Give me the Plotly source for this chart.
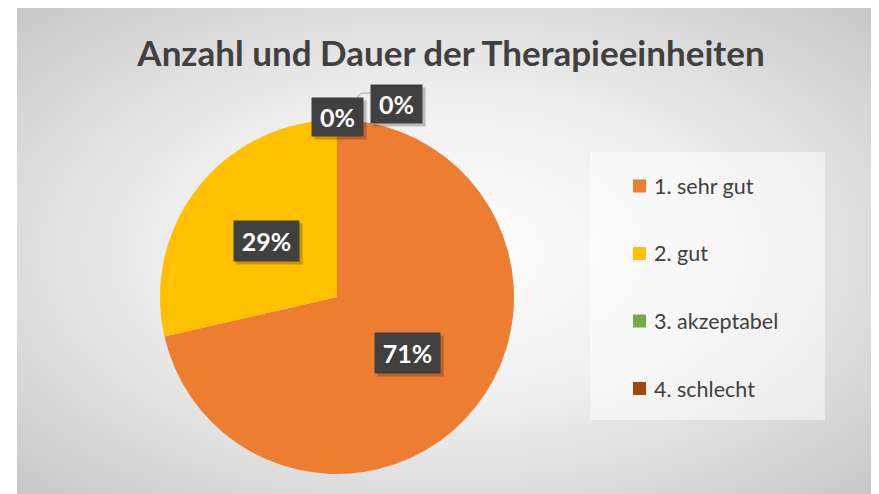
import base64
import math
import plotly.graph_objects as go

# data
categories = ["1. sehr gut", "2. gut", "3. akzeptabel", "4. schlecht"]
counts = [5, 2, 0, 0]
colors = ["#ED7D31", "#FFC000", "#70AD47", "#9E480E"]
title_text = "Anzahl und Dauer der Therapieeinheiten"

# the page body has an 8px margin, so the figure is drawn at (8, 8)
OFF = 8
W, H = 879 - OFF, 494 - OFF
FONT = "Lato, 'Open Sans', sans-serif"
TXT = "#404040"


def px(x):
    return (x - OFF) / W


def py(y):
    return 1 - (y - OFF) / H


# pie geometry (window pixels)
cx, cy, R = 337, 297, 177

# radial grey background as an svg image
bg_svg = """<svg xmlns='http://www.w3.org/2000/svg' width='860' height='486' viewBox='0 0 860 486' preserveAspectRatio='none'>
<defs><radialGradient id='g' cx='0.5' cy='0.5' r='0.72'>
<stop offset='0' stop-color='#ffffff'/><stop offset='0.45' stop-color='#eeeeee'/>
<stop offset='1' stop-color='#c6c6c6'/></radialGradient></defs>
<rect width='860' height='486' fill='url(#g)'/></svg>"""
bg_uri = "data:image/svg+xml;base64," + base64.b64encode(bg_svg.encode()).decode()

fig = go.Figure()

fig.add_trace(go.Pie(
    labels=categories, values=counts,
    marker=dict(colors=colors, line=dict(width=0)),
    sort=False, direction="clockwise", rotation=0,
    textinfo="none", hoverinfo="label+percent",
    showlegend=False,
    domain=dict(x=[px(cx - R), px(cx + R)], y=[py(cy + R), py(cy - R)]),
))

shapes = []
annotations = []

# legend box (lighter overlay on the background)
shapes.append(dict(type="rect", xref="paper", yref="paper",
                   x0=px(590), x1=px(825), y0=py(420), y1=py(152),
                   fillcolor="rgba(255,255,255,0.5)", line=dict(width=0), layer="below"))

# manual legend
for i, (cat, col) in enumerate(zip(categories, colors)):
    yc = 186 + i * 67.5
    shapes.append(dict(type="rect", xref="paper", yref="paper",
                       x0=px(633), x1=px(646), y0=py(yc + 6.5), y1=py(yc - 6.5),
                       fillcolor=col, line=dict(width=0)))
    annotations.append(dict(x=px(652), y=py(yc), xref="paper", yref="paper",
                            text=cat, showarrow=False, xanchor="left", yanchor="middle",
                            font=dict(family=FONT, size=21.5, color=TXT)))

# data labels
total = sum(counts)
cum = 0
zero_pos = [(337, 117), (396, 104)]
zi = 0
for v in counts:
    pct = round(100 * v / total)
    if v > 0:
        ang = math.radians(360 * (cum + v / 2) / total)
        lx = cx + 0.51 * R * math.sin(ang)
        ly = cy - 0.51 * R * math.cos(ang)
        bw, bh = 65, 40
    else:
        lx, ly = zero_pos[zi]
        zi += 1
        bw, bh = 51, 38
    cum += v
    # shadow
    annotations.append(dict(x=px(lx + 3), y=py(ly + 3), xref="paper", yref="paper",
                            text=" ", showarrow=False, width=bw, height=bh,
                            xanchor="center", yanchor="middle",
                            bgcolor="rgba(0,0,0,0.22)", borderpad=0))
    annotations.append(dict(x=px(lx), y=py(ly), xref="paper", yref="paper",
                            text=f"<b>{pct}%</b>", showarrow=False, width=bw, height=bh,
                            xanchor="center", yanchor="middle",
                            bgcolor="#404040", borderpad=0, valign="middle",
                            font=dict(family=FONT, size=25, color="white")))

# leader line for the second 0% label
shapes.append(dict(type="path", xref="paper", yref="paper",
                   path=f"M {px(371)},{py(93)} L {px(361)},{py(93)} L {px(357)},{py(98)}",
                   line=dict(color="#a6a6a6", width=1)))

fig.update_layout(
    width=W, height=H,
    margin=dict(l=0, r=0, t=0, b=0),
    paper_bgcolor="white",
    title=dict(text=f"<b>{title_text}</b>", x=px(451), y=py(54),
               xanchor="center", yanchor="middle",
               font=dict(family=FONT, size=35, color=TXT)),
    images=[dict(source=bg_uri, xref="paper", yref="paper",
                 x=px(17), y=py(8), sizex=px(876) - px(17), sizey=py(8) - py(494),
                 xanchor="left", yanchor="top", sizing="stretch", layer="below")],
    shapes=shapes,
    annotations=annotations,
)

fig.write_html("out.html")
